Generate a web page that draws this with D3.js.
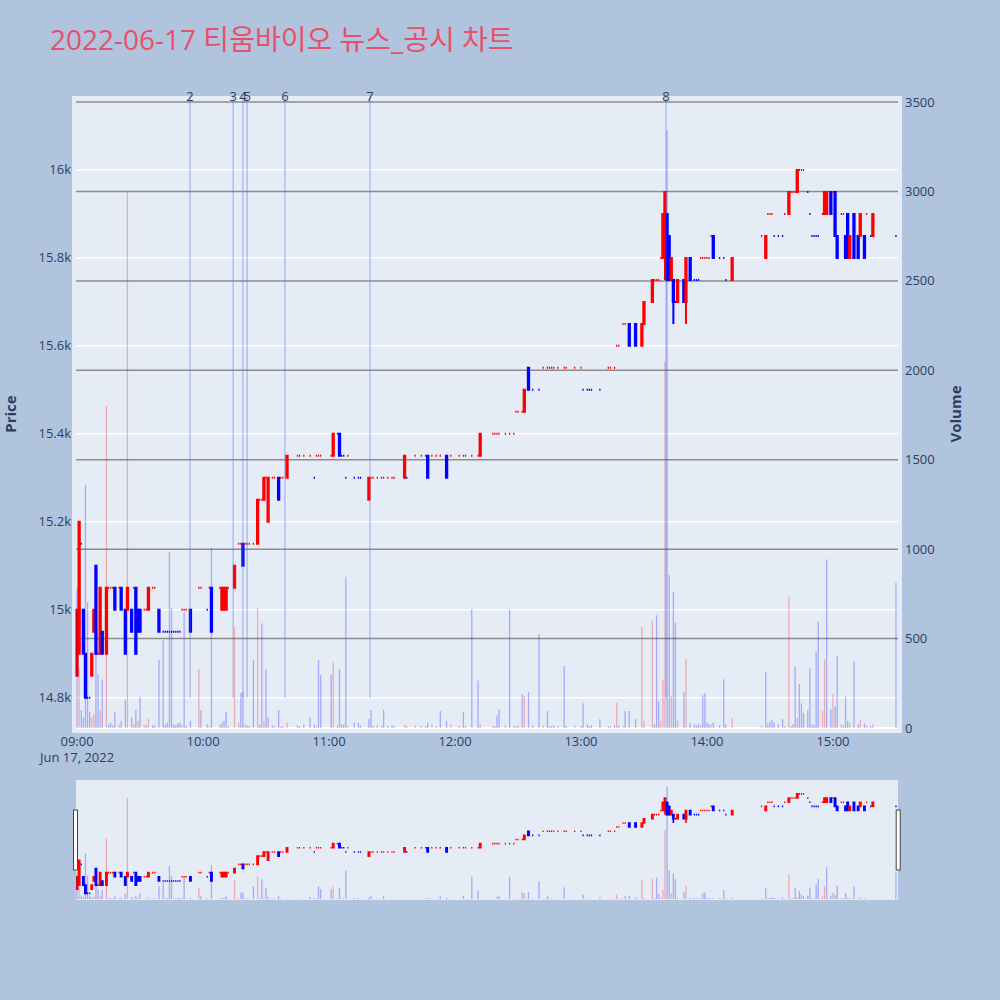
<!DOCTYPE html>
<html><head><meta charset="utf-8">
<script src="https://cdn.jsdelivr.net/npm/d3@7"></script>
<style>body{margin:0;background:#b0c4de}svg{display:block}</style>
</head><body><svg id="c" width="1000" height="1000"></svg>
<script>
const chartTitle = "2022-06-17 티움바이오 뉴스_공시 차트";
const times = [
"09:00","09:01","09:02","09:03","09:04","09:05","09:06","09:07","09:08","09:09",
"09:10","09:11","09:12","09:14","09:15","09:16","09:17","09:18","09:20","09:21",
"09:23","09:24","09:26","09:27","09:28","09:29","09:30","09:32","09:33","09:34",
"09:36","09:37","09:39","09:41","09:42","09:43","09:44","09:45","09:46","09:47",
"09:48","09:49","09:50","09:51","09:52","09:54","09:58","09:59","10:02","10:03",
"10:04","10:08","10:09","10:10","10:11","10:12","10:15","10:17","10:18","10:19",
"10:20","10:21","10:22","10:24","10:26","10:27","10:28","10:29","10:30","10:31",
"10:33","10:34","10:36","10:37","10:38","10:40","10:45","10:46","10:48","10:51",
"10:53","10:54","10:55","10:56","11:01","11:02","11:04","11:05","11:06","11:07",
"11:08","11:09","11:12","11:14","11:15","11:19","11:20","11:21","11:23","11:25",
"11:26","11:28","11:30","11:31","11:36","11:37","11:41","11:44","11:46","11:47",
"11:49","11:51","11:53","11:56","11:58","12:02","12:04","12:05","12:08","12:11",
"12:12","12:18","12:19","12:20","12:21","12:24","12:26","12:28","12:29","12:30",
"12:32","12:33","12:35","12:37","12:40","12:42","12:44","12:45","12:46","12:47",
"12:49","12:52","12:53","12:57","13:00","13:01","13:03","13:04","13:05","13:09",
"13:13","13:14","13:16","13:17","13:18","13:20","13:21","13:23","13:26","13:29",
"13:30","13:34","13:35","13:36","13:37","13:38","13:39","13:40","13:41","13:42",
"13:43","13:44","13:45","13:46","13:49","13:50","13:52","13:54","13:55","13:56",
"13:57","13:58","13:59","14:00","14:01","14:02","14:03","14:06","14:08","14:09",
"14:12","14:26","14:28","14:29","14:30","14:31","14:32","14:34","14:36","14:37",
"14:39","14:40","14:41","14:42","14:43","14:44","14:45","14:46","14:48","14:49",
"14:50","14:51","14:52","14:53","14:55","14:56","14:57","14:59","15:00","15:01",
"15:02","15:04","15:05","15:06","15:07","15:08","15:10","15:12","15:13","15:15",
"15:16","15:18","15:19","15:30"];
const opens = [
14850,14900,15150,15000,14900,14800,14800,14850,14950,15100,
14900,14900,14950,14900,15050,15050,15050,15050,15050,15050,
15000,15000,15000,15050,15050,15000,15000,15000,15000,15000,
15050,15050,15000,14950,14950,14950,14950,14950,14950,14950,
14950,14950,15000,15000,15000,15000,15050,15050,15000,15050,
15050,15050,15000,15000,15000,15050,15050,15150,15150,15150,
15150,15150,15150,15150,15150,15250,15250,15250,15300,15200,
15300,15300,15300,15300,15300,15300,15350,15350,15350,15350,
15300,15350,15350,15350,15350,15350,15400,15400,15350,15350,
15300,15350,15300,15300,15300,15250,15300,15300,15300,15300,
15300,15300,15300,15300,15300,15300,15350,15350,15350,15350,
15350,15350,15350,15350,15350,15350,15350,15350,15350,15350,
15350,15400,15400,15400,15400,15400,15400,15400,15450,15450,
15450,15450,15550,15500,15500,15550,15550,15550,15550,15550,
15550,15550,15550,15550,15550,15500,15500,15500,15500,15500,
15550,15550,15550,15600,15600,15650,15650,15650,15650,15600,
15650,15700,15750,15750,15750,15800,15800,15800,15900,15850,
15750,15750,15700,15700,15750,15700,15800,15750,15750,15750,
15800,15800,15800,15800,15800,15850,15850,15800,15800,15750,
15750,15850,15800,15900,15900,15900,15850,15850,15850,15900,
15900,15950,15950,15950,15950,16000,16000,16000,15950,15900,
15850,15850,15850,15850,15900,15900,15900,15950,15950,15950,
15850,15900,15900,15850,15900,15800,15900,15850,15850,15850,
15900,15850,15850,15850];
const highs = [
15000,15200,15150,15000,14900,14800,14800,14900,15000,15100,
14900,15050,14950,15050,15050,15050,15050,15050,15050,15050,
15000,15050,15000,15050,15050,15000,15000,15000,15000,15050,
15050,15050,15000,14950,14950,14950,14950,14950,14950,14950,
14950,14950,15000,15000,15000,15000,15050,15050,15000,15050,
15050,15050,15050,15050,15050,15050,15100,15150,15150,15150,
15150,15150,15150,15150,15250,15250,15250,15300,15300,15300,
15300,15300,15300,15300,15300,15350,15350,15350,15350,15350,
15300,15350,15350,15350,15350,15400,15400,15400,15350,15350,
15300,15350,15300,15300,15300,15300,15300,15300,15300,15300,
15300,15300,15300,15300,15350,15300,15350,15350,15350,15350,
15350,15350,15350,15350,15350,15350,15350,15350,15350,15350,
15400,15400,15400,15400,15400,15400,15400,15400,15450,15450,
15450,15500,15550,15500,15500,15550,15550,15550,15550,15550,
15550,15550,15550,15550,15550,15500,15500,15500,15500,15500,
15550,15550,15550,15600,15600,15650,15650,15650,15650,15650,
15700,15750,15750,15750,15750,15800,15900,15950,15900,15850,
15800,15750,15700,15750,15750,15800,15800,15750,15750,15750,
15800,15800,15800,15800,15800,15850,15850,15800,15800,15750,
15800,15850,15850,15900,15900,15900,15850,15850,15850,15900,
15950,15950,15950,15950,16000,16000,16000,16000,15950,15900,
15850,15850,15850,15850,15900,15950,15950,15950,15950,15950,
15850,15900,15900,15850,15900,15850,15900,15850,15900,15850,
15900,15850,15900,15850];
const lows = [
14850,14900,15150,14900,14800,14800,14800,14850,14950,14900,
14900,14900,14900,14900,15050,15050,15050,15000,15050,15000,
14900,15000,14950,15050,14900,14950,14950,15000,15000,15000,
15050,15050,14950,14950,14950,14950,14950,14950,14950,14950,
14950,14950,15000,15000,15000,14950,15050,15050,15000,15050,
14950,15050,15000,15000,15000,15050,15050,15150,15150,15100,
15150,15150,15150,15150,15150,15250,15250,15250,15300,15200,
15300,15300,15250,15300,15300,15300,15350,15350,15350,15350,
15300,15350,15350,15350,15350,15350,15400,15350,15350,15350,
15300,15350,15300,15300,15300,15250,15300,15300,15300,15300,
15300,15300,15300,15300,15300,15300,15350,15350,15350,15300,
15350,15350,15350,15300,15350,15350,15350,15350,15350,15350,
15350,15400,15400,15400,15400,15400,15400,15400,15450,15450,
15450,15450,15500,15500,15500,15550,15550,15550,15550,15550,
15550,15550,15550,15550,15550,15500,15500,15500,15500,15500,
15550,15550,15550,15600,15600,15650,15650,15600,15600,15600,
15650,15700,15750,15750,15750,15800,15800,15750,15750,15750,
15750,15650,15700,15700,15700,15650,15750,15750,15750,15750,
15800,15800,15800,15800,15800,15850,15800,15800,15800,15750,
15750,15850,15800,15900,15900,15900,15850,15850,15850,15900,
15900,15950,15950,15950,15950,16000,16000,16000,15950,15900,
15850,15850,15850,15850,15900,15900,15900,15900,15950,15850,
15800,15900,15900,15800,15800,15800,15800,15800,15850,15800,
15900,15850,15850,15850];
const closes = [
15000,15200,15150,14900,14800,14800,14800,14900,15000,14900,
14900,15050,14900,15050,15050,15050,15050,15000,15050,15000,
14900,15050,14950,15050,14900,14950,14950,15000,15000,15050,
15050,15050,14950,14950,14950,14950,14950,14950,14950,14950,
14950,14950,15000,15000,15000,14950,15050,15050,15000,15050,
14950,15050,15050,15050,15050,15050,15100,15150,15150,15100,
15150,15150,15150,15150,15250,15250,15250,15300,15300,15300,
15300,15300,15250,15300,15300,15350,15350,15350,15350,15350,
15300,15350,15350,15350,15350,15400,15400,15350,15350,15350,
15300,15350,15300,15300,15300,15300,15300,15300,15300,15300,
15300,15300,15300,15300,15350,15300,15350,15350,15350,15300,
15350,15350,15350,15300,15350,15350,15350,15350,15350,15350,
15400,15400,15400,15400,15400,15400,15400,15400,15450,15450,
15450,15500,15500,15500,15500,15550,15550,15550,15550,15550,
15550,15550,15550,15550,15550,15500,15500,15500,15500,15500,
15550,15550,15550,15600,15600,15650,15650,15600,15600,15650,
15700,15750,15750,15750,15750,15800,15900,15950,15750,15750,
15800,15700,15700,15750,15700,15800,15750,15750,15750,15750,
15800,15800,15800,15800,15800,15850,15800,15800,15800,15750,
15800,15850,15850,15900,15900,15900,15850,15850,15850,15900,
15950,15950,15950,15950,16000,16000,16000,16000,15950,15900,
15850,15850,15850,15850,15900,15950,15950,15900,15950,15850,
15800,15900,15900,15800,15800,15850,15800,15800,15900,15800,
15900,15850,15900,15850];
const volumes = [
780,335,100,60,1360,704,90,60,80,600,
300,100,270,1800,20,30,15,90,20,40,
157,3000,60,20,100,40,175,20,15,50,
15,15,380,492,20,30,985,670,20,15,
25,30,15,645,10,40,330,100,20,10,
1006,20,30,40,90,10,566,30,196,200,
20,15,10,380,670,20,585,40,328,60,
15,10,100,10,10,30,15,10,20,60,
20,10,380,296,300,365,15,330,20,20,
846,10,30,30,15,50,100,10,15,10,
100,10,15,10,20,10,15,10,10,30,
20,10,95,40,20,10,90,10,665,265,
20,10,10,70,104,15,663,10,10,15,
190,180,200,15,525,15,95,10,10,15,
10,347,10,15,10,138,20,10,15,50,
10,10,15,140,15,10,95,95,50,566,
40,600,20,630,150,40,270,2050,3343,855,
180,762,589,40,200,385,30,20,15,20,
15,183,194,30,20,20,30,15,272,20,
55,15,315,30,35,45,30,20,50,10,
734,10,20,345,55,246,137,85,100,337,
20,15,427,594,95,384,943,105,190,120,
404,20,15,175,40,30,371,20,45,25,
15,10,20,812];
const newsTimes = ["09:53:50","10:14:20","10:19:00","10:21:00","10:39:00","11:19:30","13:40:30"];
const newsLabels = ["2","3","4","5","6","7","8"];
const priceTicks = [14800,15000,15200,15400,15600,15800,16000];
const volumeTicks = [0,500,1000,1500,2000,2500,3000,3500];
const timeTicks = ["09:00","10:00","11:00","12:00","13:00","14:00","15:00"];
const dateLabel = "Jun 17, 2022";

const FONT = "'Open Sans','Noto Sans CJK KR',sans-serif";
const TXT = "#2a3f5f";
const toDate = s => { const p = s.split(":"); return new Date(2022,5,17,+p[0],+p[1],+(p[2]||0)); };

const data = times.map((t,i)=>({t:toDate(t),o:opens[i],h:highs[i],l:lows[i],c:closes[i],v:volumes[i]}));
let prevC=null, prevDir=1;
data.forEach(d=>{
  let dir;
  if (d.c>d.o) dir=1; else if (d.c<d.o) dir=-1;
  else if (prevC===null) dir=1; else dir = d.c>prevC?1:(d.c<prevC?-1:prevDir);
  d.dir=dir; d.vdir=(prevC!==null && d.c>prevC)?1:-1;
  prevC=d.c; prevDir=dir;
});

const svg = d3.select("#c").style("font-family",FONT);
svg.append("rect").attr("width",1000).attr("height",1000).attr("fill","#b0c4de");

const x = d3.scaleTime().domain([new Date(2022,5,17,8,59,30), new Date(2022,5,17,15,30,30)]).range([76,897]);
const M = {top:96,bottom:733};
const yP = d3.scaleLinear().domain([14720,16168]).range([M.bottom,M.top]);
const yV = d3.scaleLinear().domain([-28,3534]).range([M.bottom,M.top]);
const S = {top:780,bottom:900};
const yP2 = d3.scaleLinear().domain(yP.domain()).range([S.bottom,S.top]);
const yV2 = d3.scaleLinear().domain(yV.domain()).range([S.bottom,S.top]);

// title
svg.append("text").attr("x",50).attr("y",50).attr("font-size",28).attr("fill","#e8506a").text(chartTitle);

// main plot bg
svg.append("rect").attr("x",72).attr("y",M.top).attr("width",830).attr("height",M.bottom-M.top).attr("fill","#e5ecf6");
const X0=76, X1=898;
svg.append("g").selectAll("line").data(priceTicks).join("line")
  .attr("x1",X0).attr("x2",X1).attr("y1",d=>yP(d)).attr("y2",d=>yP(d))
  .attr("stroke","#ffffff").attr("stroke-width",1.5);
svg.append("g").selectAll("line").data(volumeTicks.filter(v=>v>0)).join("line")
  .attr("x1",X0).attr("x2",X1).attr("y1",d=>yV(d)).attr("y2",d=>yV(d))
  .attr("stroke","#8c8c8c").attr("stroke-width",1.5);
svg.append("line").attr("x1",X0).attr("x2",X1).attr("y1",yV(0)).attr("y2",yV(0)).attr("stroke","#fff").attr("stroke-width",2);

svg.append("defs").append("clipPath").attr("id","clipMain").append("rect")
  .attr("x",72).attr("y",M.top).attr("width",830).attr("height",M.bottom-M.top);

function drawSeries(g, yp, yv, hw, sw){
  const col = d => d.dir>0 ? "#ff0000" : "#0000ff";
  g.append("g").selectAll("path").data(data).join("path")
    .attr("d", d=>{
      const cx=x(d.t), yo=yp(d.o), yc=yp(d.c), yh=yp(d.h), yl=yp(d.l);
      const top=Math.min(yo,yc), bot=Math.max(yo,yc);
      return `M${cx-hw},${top}H${cx+hw}V${bot}H${cx-hw}Z M${cx},${top}V${yh} M${cx},${bot}V${yl}`;
    })
    .attr("fill",col).attr("stroke",col).attr("stroke-width",sw);
  g.append("g").selectAll("rect").data(data).join("rect")
    .attr("x",d=>x(d.t)-0.65).attr("width",1.3)
    .attr("y",d=>yv(d.v)).attr("height",d=>yv(0)-yv(d.v))
    .attr("fill",d=>d.vdir>0?"#ff0000":"#0000ff").attr("fill-opacity",0.28);
}
const gMain = svg.append("g").attr("clip-path","url(#clipMain)");
drawSeries(gMain, yP, yV, 0.65, 2);

// news lines
const gNews = svg.append("g");
newsTimes.forEach((t,i)=>{
  const nx = x(toDate(t));
  gNews.append("line").attr("x1",nx).attr("x2",nx).attr("y1",M.top).attr("y2",yP(14800))
    .attr("stroke","rgb(65,105,225)").attr("stroke-opacity",0.5).attr("stroke-width",1);
  gNews.append("text").attr("x",nx).attr("y",101).attr("text-anchor","middle")
    .attr("font-size",13).attr("fill",TXT).text(newsLabels[i]);
});

svg.append("g").selectAll("text").data(priceTicks).join("text")
  .attr("x",71).attr("y",d=>yP(d)).attr("dy","0.35em").attr("text-anchor","end")
  .attr("font-size",13).attr("fill",TXT).text(d=>d3.format("~s")(d));
svg.append("g").selectAll("text").data(volumeTicks).join("text")
  .attr("x",905).attr("y",d=>yV(d)).attr("dy","0.35em").attr("text-anchor","start")
  .attr("font-size",13).attr("fill",TXT).text(d=>d);
svg.append("g").selectAll("text").data(timeTicks).join("text")
  .attr("x",d=>x(toDate(d))).attr("y",746).attr("text-anchor","middle")
  .attr("font-size",13).attr("fill",TXT).text(d=>d);
svg.append("text").attr("x",x(toDate(timeTicks[0]))).attr("y",762).attr("text-anchor","middle")
  .attr("font-size",13).attr("fill",TXT).text(dateLabel);

svg.append("text").attr("transform","translate(10,414) rotate(-90)").attr("text-anchor","middle")
  .attr("dominant-baseline","central").attr("font-size",15).attr("font-weight","bold").attr("fill",TXT).text("Price");
svg.append("text").attr("transform","translate(955,414) rotate(-90)").attr("text-anchor","middle")
  .attr("dominant-baseline","central").attr("font-size",15).attr("font-weight","bold").attr("fill",TXT).text("Volume");

// range slider
svg.append("rect").attr("x",X0).attr("y",S.top).attr("width",X1-X0).attr("height",S.bottom-S.top).attr("fill","#e5ecf6");
svg.select("defs").append("clipPath").attr("id","clipS").append("rect")
  .attr("x",X0).attr("y",S.top).attr("width",X1-X0).attr("height",S.bottom-S.top);
const gS = svg.append("g").attr("clip-path","url(#clipS)");
drawSeries(gS, yP2, yV2, 0.65, 1.6);
[73.5, 896.2].forEach(hx=>{
  svg.append("rect").attr("x",hx).attr("y",810).attr("width",4).attr("height",60)
    .attr("fill","#fff").attr("stroke","#444").attr("stroke-width",1);
});
</script></body></html>
